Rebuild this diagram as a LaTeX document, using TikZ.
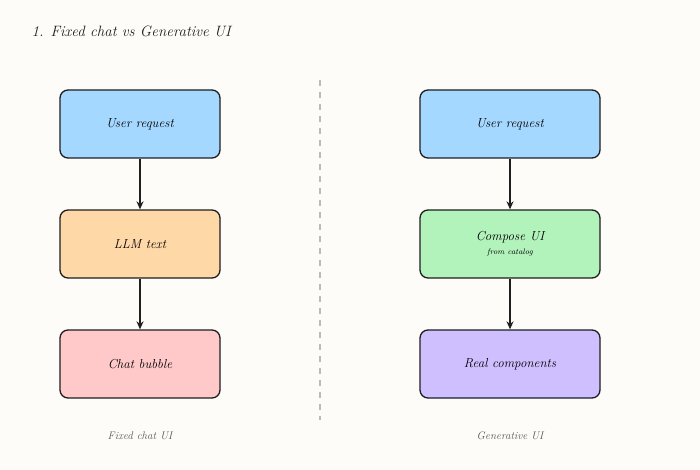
\documentclass[tikz,border=0pt]{standalone}
\usetikzlibrary{arrows.meta}
\definecolor{bg}{HTML}{FDFCF8}
\definecolor{cblue}{HTML}{A5D8FF}
\definecolor{corange}{HTML}{FFD8A8}
\definecolor{cpink}{HTML}{FFC9C9}
\definecolor{cgreen}{HTML}{B2F2BB}
\definecolor{cpurple}{HTML}{D0BFFF}
\definecolor{ink}{HTML}{1E1E1E}
\begin{document}
\begin{tikzpicture}[x=1pt,y=-1pt,
  box/.style={draw=ink,line width=1.3pt,rounded corners=8pt,minimum width=160pt,minimum height=68pt,font=\itshape\fontsize{13}{15}\selectfont,align=center,inner sep=0pt},
  arr/.style={-{Stealth[length=8pt,width=7pt]},draw=ink,line width=1.3pt},
  captxt/.style={font=\itshape\fontsize{11}{13}\selectfont,text=ink!75}]
\fill[bg] (0,0) rectangle (700,470);
\useasboundingbox (0,0) rectangle (700,470);
\node[anchor=west,font=\itshape\fontsize{15}{18}\selectfont,text=ink] (title) at (28,31) {1. Fixed chat vs Generative UI};
\node[box,fill=cblue] (a1) at (140,124) {User request};
\node[box,fill=corange] (a2) at (140,244) {LLM text};
\node[box,fill=cpink] (a3) at (140,364) {Chat bubble};
\node[box,fill=cblue,minimum width=180pt] (b1) at (510,124) {User request};
\node[box,fill=cgreen,minimum width=180pt] (b2) at (510,244) {Compose UI\\[-1pt]{\fontsize{8}{10}\selectfont from catalog}};
\node[box,fill=cpurple,minimum width=180pt] (b3) at (510,364) {Real components};
\draw[arr] (a1) -- (a2);
\draw[arr] (a2) -- (a3);
\draw[arr] (b1) -- (b2);
\draw[arr] (b2) -- (b3);
\coordinate (d1) at (320,80);
\coordinate (d2) at (320,420);
\draw[ink!30,line width=1.2pt,dash pattern=on 6pt off 6pt] (d1) -- (d2);
\node[captxt] (c1) at (140,436) {Fixed chat UI};
\node[captxt] (c2) at (510,436) {Generative UI};
\end{tikzpicture}
\end{document}
